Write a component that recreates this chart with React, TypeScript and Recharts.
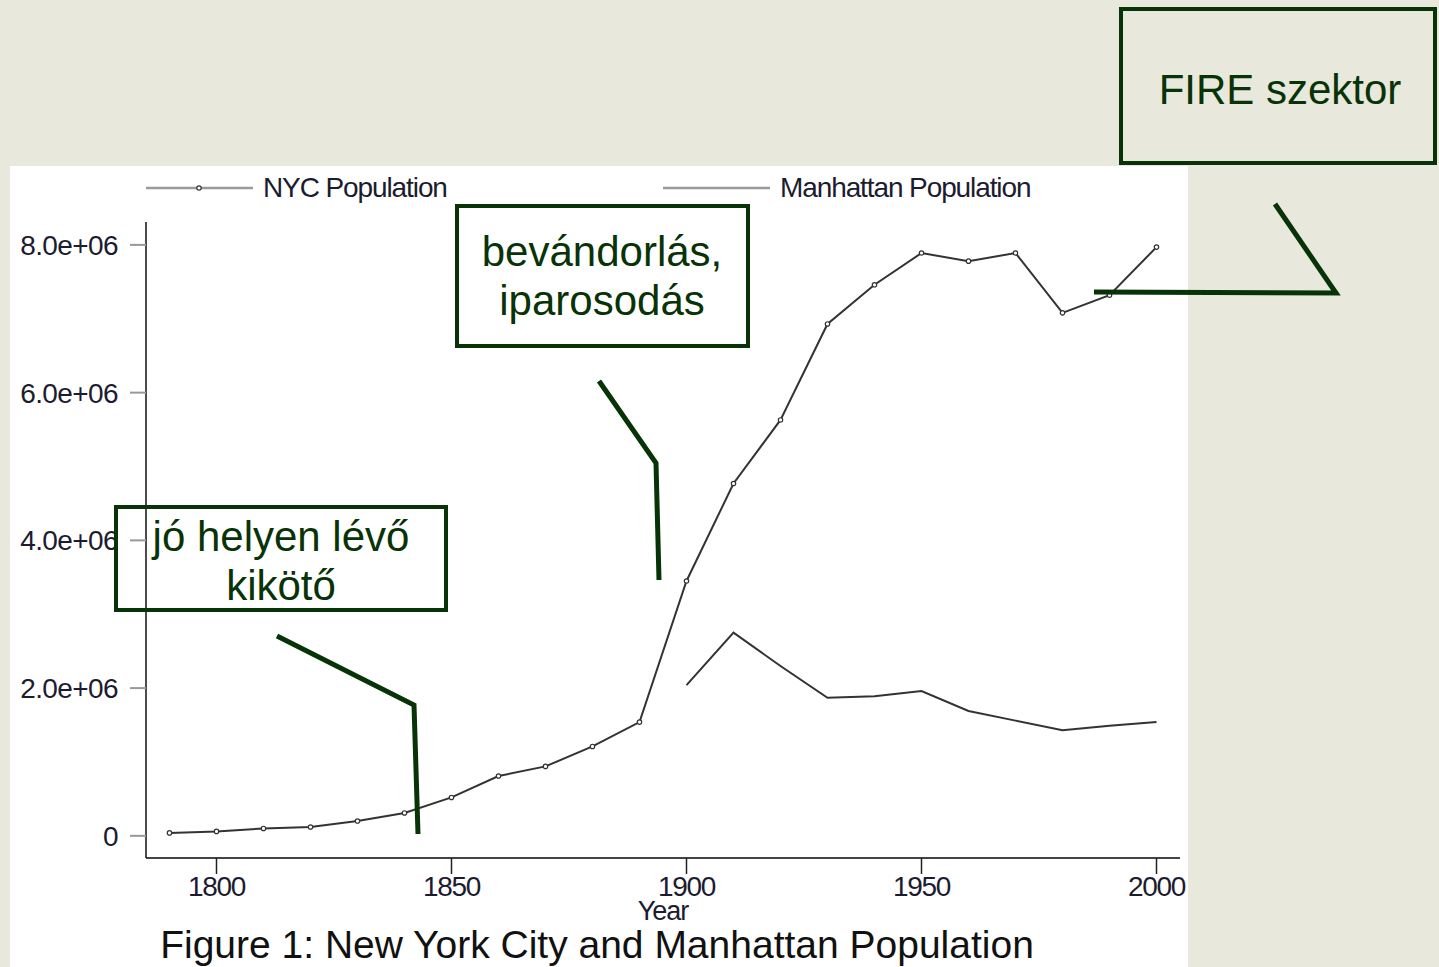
import { Legend, Line, LineChart, XAxis, YAxis } from 'recharts';

// census years and populations (millions)
const years = [
  1790, 1800, 1810, 1820, 1830, 1840, 1850, 1860, 1870, 1880, 1890,
  1900, 1910, 1920, 1930, 1940, 1950, 1960, 1970, 1980, 1990, 2000,
];
const nycPopulation = [
  0.04, 0.06, 0.1, 0.12, 0.2, 0.31, 0.52, 0.81, 0.94, 1.21, 1.54,
  3.45, 4.77, 5.63, 6.93, 7.46, 7.89, 7.78, 7.89, 7.08, 7.32, 7.97,
];
const manhattanPopulation = [
  null, null, null, null, null, null, null, null, null, null, null,
  2.04, 2.75, 2.3, 1.87, 1.89, 1.96, 1.69, 1.56, 1.43, 1.49, 1.54,
];
const yearTicks = [1800, 1850, 1900, 1950, 2000];
const popTicks = [0, 2e6, 4e6, 6e6, 8e6];

const data = years.map((year, i) => ({
  year,
  nyc: nycPopulation[i] * 1e6,
  manhattan: manhattanPopulation[i] == null ? null : (manhattanPopulation[i] as number) * 1e6,
}));

const GREEN = '#073307';
const LINE = '#333';
const INK = '#1c1c30';
const FONT = '"Liberation Sans", Arial, sans-serif';

const fmtPop = (v: number) => (v === 0 ? '0' : `${(v / 1e6).toFixed(1)}e+06`);

function StataLegend() {
  const item = (left: number, label: string, marker: boolean) => (
    <div style={{ position: 'absolute', left, top: 0, height: 36, display: 'flex', alignItems: 'center' }}>
      <svg width={107} height={36}>
        <line x1={0} x2={107} y1={18} y2={18} stroke="#9a9a9a" strokeWidth={2.5} />
        {marker && <circle cx={53} cy={18} r={2.2} fill="#fff" stroke="#333" strokeWidth={1.2} />}
      </svg>
      <span
        style={{
          marginLeft: 10,
          fontSize: 28,
          letterSpacing: -1.1,
          color: INK,
          whiteSpace: 'nowrap',
          lineHeight: '36px',
        }}
      >
        {label}
      </span>
    </div>
  );
  return (
    <div style={{ position: 'relative', width: 1178, height: 36, fontFamily: FONT }}>
      {item(136, 'NYC Population', true)}
      {item(653, 'Manhattan Population', false)}
    </div>
  );
}

export default function App() {
  return (
    <div
      style={{
        position: 'absolute',
        left: 0,
        top: 0,
        width: 1439,
        height: 967,
        background: '#e8e8dc',
        overflow: 'hidden',
        fontFamily: FONT,
      }}
    >
      <div style={{ position: 'absolute', left: 10, top: 166, background: '#fff' }}>
        <LineChart
          width={1178}
          height={801}
          data={data}
          margin={{ top: 20, right: 8, bottom: 0, left: 0 }}
        >
          <Legend
            verticalAlign="top"
            content={() => <StataLegend />}
            wrapperStyle={{ top: 4, left: 0, width: 1178, height: 36 }}
          />
          <XAxis
            dataKey="year"
            type="number"
            domain={[1785, 2005]}
            ticks={yearTicks}
            allowDataOverflow
            height={109}
            tickSize={16}
            tickMargin={2}
            axisLine={{ stroke: '#444', strokeWidth: 2 }}
            tickLine={{ stroke: '#222', strokeWidth: 1.5 }}
            tick={{ fontSize: 28, fill: INK, letterSpacing: -1.3, fontFamily: FONT }}
            label={{
              value: 'Year',
              position: 'insideBottom',
              offset: 47,
              style: { fontSize: 27, fill: INK, letterSpacing: -1, fontFamily: FONT },
            }}
          />
          <YAxis
            type="number"
            domain={[-300000, 8310000]}
            ticks={popTicks}
            allowDataOverflow
            width={136}
            tickSize={16}
            tickMargin={12}
            tickFormatter={fmtPop}
            axisLine={{ stroke: '#111', strokeWidth: 1.5 }}
            tickLine={{ stroke: '#999', strokeWidth: 2 }}
            tick={{ fontSize: 28, fill: INK, letterSpacing: -0.6, fontFamily: FONT }}
          />
          <Line
            dataKey="nyc"
            name="NYC Population"
            type="linear"
            stroke={LINE}
            strokeWidth={2}
            dot={{ r: 2.2, fill: '#fff', stroke: '#333', strokeWidth: 1.2 }}
            isAnimationActive={false}
          />
          <Line
            dataKey="manhattan"
            name="Manhattan Population"
            type="linear"
            stroke={LINE}
            strokeWidth={2}
            dot={false}
            isAnimationActive={false}
          />
        </LineChart>
      </div>

      {/* callout boxes and pointers drawn over the figure */}
      <svg
        width={1439}
        height={967}
        style={{ position: 'absolute', left: 0, top: 0, pointerEvents: 'none' }}
      >
        <g fill="none" stroke={GREEN} strokeWidth={4}>
          <rect x={116} y={507} width={330} height={103} />
          <rect x={457} y={206} width={291} height={140} />
          <rect x={1121} y={9} width={314} height={154} />
        </g>
        <g fill="none" stroke={GREEN} strokeWidth={5} strokeLinejoin="miter">
          <polyline points="277,636 414,705 418,834" />
          <polyline points="599,381 656,463 659,580" />
          <polyline points="1275,204 1336,293 1094,292" />
        </g>
        <g fill={GREEN} fontSize={42} textAnchor="middle" fontFamily={FONT}>
          <text x={281} y={551}>jó helyen lévő</text>
          <text x={281} y={600}>kikötő</text>
          <text x={602} y={266}>bevándorlás,</text>
          <text x={602} y={315}>iparosodás</text>
          <text x={1280} y={104}>FIRE szektor</text>
        </g>
        <text x={597} y={958} fontSize={39} textAnchor="middle" fill="#111" fontFamily={FONT}>
          Figure 1: New York City and Manhattan Population
        </text>
      </svg>
    </div>
  );
}
